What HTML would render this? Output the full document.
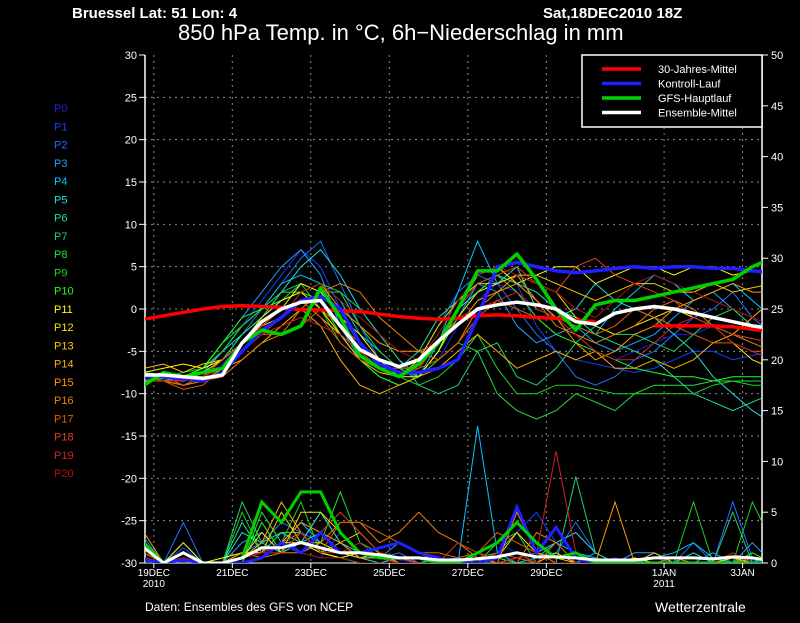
<!DOCTYPE html>
<html><head><meta charset="utf-8">
<style>
html,body{margin:0;padding:0;background:#000;}
body{width:800px;height:618px;overflow:hidden;font-family:"Liberation Sans","DejaVu Sans",sans-serif;}
svg text{font-family:"Liberation Sans","DejaVu Sans",sans-serif;}
svg text:not([fill]){fill:#fff;}
</style></head>
<body>
<svg id="chart" width="800" height="618" viewBox="0 0 800 618" xmlns="http://www.w3.org/2000/svg">
<rect x="0" y="0" width="800" height="618" fill="#000"/>
<text x="72" y="18" font-size="15" font-weight="bold">Bruessel  Lat: 51 Lon: 4</text>
<text x="543" y="18" font-size="15" font-weight="bold">Sat,18DEC2010 18Z</text>
<text x="178" y="40" font-size="22">850 hPa Temp. in °C, 6h−Niederschlag in mm</text>
<text x="145" y="611" font-size="12">Daten: Ensembles des GFS von NCEP</text>
<text x="655" y="612" font-size="14">Wetterzentrale</text>
<g id="grid"></g>
<g id="axes"></g>
<g id="legendP"></g>
<clipPath id="clip"><rect x="145" y="55" width="617" height="508"/></clipPath>
<g id="precip" clip-path="url(#clip)"></g>
<g id="temps" clip-path="url(#clip)"></g>
<g id="legend"></g>
</svg>
<script>
const xLabels=["19DEC","21DEC","23DEC","25DEC","27DEC","29DEC","1JAN","3JAN"];
const xLabelDays=[0.25,2.25,4.25,6.25,8.25,10.25,13.25,15.25];
const xLabelYear=["2010","","","","","","2011",""];
const leftTicks=[30,25,20,15,10,5,0,-5,-10,-15,-20,-25,-30];
const rightTicks=[50,45,40,35,30,25,20,15,10,5,0];
const memberColors=["#2020e0","#1040ff","#2070ff","#20a0ff","#00c8ff","#20e0e0","#20e0a0","#20d070","#20e040","#20d020","#20ff20","#ffff00","#ffe000","#ffc800","#ffb000","#ff9800","#f08000","#e06000","#e04020","#d02020","#b01010"];
const memberTemps=[
[-8,-8.3,-8.5,-8,-6.5,-4,-1,1,3,2,-1,-4,-6,-7.5,-8,-6,-2,1,3,2,0,-1,-3,-5,-6,-5,-4,-3,-3,-2,-3,-4,-5],
[-8.2,-8,-8.6,-7.5,-5,-2,1,4,7,5,0,-4,-7,-8,-7,-4,0,2,4,3,-2,-5,-6,-6.5,-7,-7.5,-7,-6,-5,-5,-6,-5.5,-5],
[-7.5,-8,-9,-8,-6,-3,0,3,6,8,3,-2,-6,-7,-6,-2,2,4,3,0,-3,-5,-8,-9,-8,-6,-5,-3,-1,0,2,-1,-3],
[-8,-8.5,-8,-7,-4,-1,2,5,7,4,-2,-6,-8,-9,-8,-5,-1,3,2,-2,-4,-3,-2,-4,-5,-4,-3,-1,1,2,0,-2,-3],
[-8,-7.5,-8,-7,-5,-2,0,3,4,3,1,-3,-5,-7,-8,-4,2,8,3,4,1,-1,-2,-3,0,2,4,3,1,2,3,1,-1],
[-8.5,-8,-8.5,-7.5,-5,-3,-1,2,5,7,4,0,-3,-6,-8,-5,0,2,3,5,0,-1,0,3,1,0,-1,-3,-5,-8,-10,-12,-13.5],
[-8,-8,-9,-8,-6,-3,-1,1,2,0,-3,-6,-7,-7,-5,-1,1,3,4,3,2,0,-1,-3,-4,-5,-6,-8,-10,-11,-12,-11,-10],
[-7.5,-7.8,-8,-7,-6,-3,-1,2,3,2,2,0,-3,-6,-9,-10,-9,-5,-4,-8,-9,-7,-4,-2,-3,-3,-4,-5,-3,-1,0,-2,-3],
[-8,-8.5,-8,-7,-4,-2,0,2,2,3,2,-2,-5,-7,-8,-6,-4,-5,-10,-12,-13,-12,-10,-11,-12,-10,-9,-9,-9,-8.5,-8.5,-8.5,-8.5],
[-8,-8,-7.5,-7,-5,-2,0,1,3,0,-4,-6,-7,-8,-9,-8,-6,-3,-7,-10,-10,-9,-9,-9.5,-10,-10,-10,-10,-10,-9,-8.5,-9,-9],
[-8.5,-8.2,-8,-7,-4,-1,0,1,2,1,-3,-6,-8,-9,-8,-5,-1,2,4,2,-1,-3,-4,-5,-6,-7,-7.5,-8,-8,-8.5,-8,-8,-8],
[-7.5,-7,-6.5,-7,-6,-4,-2,0,3,2,-1,-3,-6,-8,-8,-5,0,4,5,3,4,5,5,3,4,5,5,4,5,5,4,4.5,4],
[-8,-8,-8.5,-7.5,-6,-4,-1,1,2,0,-3,-5,-7,-8,-7,-4,-1,2,3,4,3,2,-1,-2,-3,-2,-1,0,-1,-2,-4,-6,-7],
[-7,-6.5,-7.5,-6.5,-6,-4,-2,-1,1,-1,-3,-6,-7.5,-8,-6,-2,1,3,3,4,4,3,2,1,2,3,3,2,2,3,2,2.5,3],
[-8,-7.5,-8,-8,-7,-6,-4,-2,0,-2,-6,-9,-10,-9,-8,-7,-5,-3,-5,-7,-6,-5,-6,-5,-7,-7,-6,-7,-6,-4,-3,-1,1],
[-8.5,-8.5,-9,-8.5,-7,-5,-3,-1,2,3,0,-2,-4,-5,-5,-4,-2,1,2,3,1,-1,-4,-6,-5,-3,-2,0,1,2,3,2,2],
[-8,-8.5,-9,-8.5,-8,-6,-4,-3,0,2,3,2,-1,-3,-5,-6,-4,0,2,4,1,-2,-3,-4,-3,-2,0,1,0,-2,-3,-4,-5],
[-8.5,-8.5,-9.5,-9,-7,-5,-3,-3,-2,0,-2,-4,-6,-7,-7,-6,-4,-1,1,0,-1,-1,-2,-3,-2,0,-1,-2,-3,-4,-4,-5,-5],
[-8,-8,-9,-8,-6,-4,-2,0,1,-1,-4,-6,-7,-7,-6,-4,0,3,4,5,3,2,5,6,4,3,2,1,-1,-2,-3,-3.5,-4],
[-8,-8.5,-8.5,-8,-7,-5,-3,-2,-1,-2,-3,-5,-7,-8,-7,-4,-1,0,1,2,0,-1,-3,-5,-6,-6,-4,-2,-1,-2,-4,-5,-6],
[-8,-8,-8.5,-8,-7,-5,-3,-1,2,3,1,-1,-3,-5,-6,-3,1,4,5,4,3,2,0,-1,1,3,4,3,2,1,0,-1,-2]
];
const memberPrecip=[
[0.5,0,0.3,0,0,1,2,3,2,1,2,1,0.5,0.3,0,0,0.5,1,2,1,0,0,0,0.5,0,0,0.5,0,0,0,0.5,0,0],
[1,0,1.5,0,0,0.5,1,3,1,0.5,3,1,0.5,0.5,0,0,0,0.5,1,3,5,2,0,0,0.5,0,1,0,0,0,0,0.3,0],
[2.5,0,4,0,0,1,2,4,3,2,1,1,0.5,1,0,0.3,0.5,0,0.5,1,0,1,4,1,0,0,0,0,2,0,6,0.5,0],
[1,0,2,0,0,2,3,1,2,5,2,0.5,0.5,2,1,0,0,0,0.5,0,0,1,0,1,0,1,1,0,0,1,0,2,0],
[0.5,0,1,0,0,1,1,2,4,2,1,0.5,0.5,0.5,0,0,0,13.5,1,0,0.5,2,1,0.5,0,0,0.5,1,2,0.5,0,0.5,0],
[0.5,0,0.5,0,0,3,2,1,2,3,1,0.5,0,0.5,0,0,0,1,0,0.5,1,2,3,1,0,0,0,0,1,0,0.5,0,1],
[0.5,0,1,0,0,4,1,3,2,5,2,1,0.5,0,0,0,0,0,0.5,1,0.5,1,0,0,0,0,1,0,0,0,0,0,0],
[0.5,0,2,0,0,6,2,3,3,1,0.5,0,0,0,0,0.5,0,0.5,1,3,0,0,8.5,1,0,0,0,0,0,0,5,0,0],
[0,0,1,0,0,0,5,2,1,2,7,2,1,0.5,0,0,0,0,2,3,1,0,0,0,0,0,0,0,0,0,0,0,0],
[0.5,0,0.5,0,0,5,1,2,6,1,0.5,0,0,0,0,0,2,1,0.5,0,0,0,0,0,0,0,0,0,6,0,0,6,2],
[1,0,1,0,0,0,4,1,3,1,0.5,0,0,0,0,0,0,0,0,0,0,0,0,0,0,0,0,0,0,0,0,1,0],
[0.5,0,1,0,0.5,1,1,2,2,1,0.5,1,0.5,0,0,0,0,0.5,0,0.5,0,0,0,0,0,0.5,0,0,0,0,0,0,0],
[0.5,0,2,0,0,0.5,3,1,5,5,3,1,0.5,0,0,0,0,0.5,0.5,1,0,0,0,0,0,0,0,0,0,0,0.5,0,0],
[0.5,0,1,0,0,1,1,5,2,2,1,0.5,1,0,0,0,0,0.5,0.5,3,1,0.5,0,0,0,0,0,0,0,0,0,0,0],
[2,0,1,0,0,0.5,2,6,3,1,2,3,1,0.5,0,0,0,1,0.5,1,0,1,0,0,0,0,1,0,0,0,0,0.5,0],
[3,0,0.5,0,0,0.5,1,2,4,3,2,0.5,0.5,0,0,0,0,0.5,0,5,1,0,0,0,6,0,0,0,0,0,0,0,0],
[1,0,0.5,0,0,1,0.5,1,1,2,4,4,2,3,5,3,2,0.5,0,0,3,2,0,0,0,0,0,0.5,0,0,0,0.5,0],
[1,0,0.5,0,0,0.5,1,2,3,1,4,4,3,2,1,1,0.5,1,3,2,1,0,0,0,0,0,0,0,0,0,0,0,0],
[0.5,0,0.5,0,0,0.5,1,2,1,3,5,3,1,0.5,0,0,0,0,1,0.5,0,2,0,0,0,0,0,0,0,0,0,0,0],
[0.5,0,0.5,0,0,0.5,1,1,3,1,1,2,0.5,0,0,0,2,1,0,0.5,1,11,1,0,0,0,0,0,0,0,1,0,0],
[0.5,0,0.5,0,0,0.5,1,2,1,0.5,0.5,0,0,0,0,0,0,1,0.5,1,0,0,0,0,0,0,0,0,0,0,0,0,0]
];
const climTemp=[-1.2,-0.8,-0.4,0,0.3,0.4,0.3,0.2,-0.1,-0.1,-0.2,-0.3,-0.6,-0.9,-1.1,-1.2,-1.1,-0.8,-0.7,-0.8,-1,-1.1,-1.3,-1.5,null,null,-2,-2,-2,-2,-2.1,-2.4,-2.7];
const controlTemp=[-8,-8,-8.2,-8.5,-7.5,-5,-2.5,-1,1,1.5,0,-4,-6.5,-7.5,-7.5,-7,-6,-1,5,5.5,5,4.5,4.3,4.5,4.8,5,4.8,5,5,4.8,4.8,4.5,4.3];
const gfsTemp=[-9,-7.5,-8,-7.5,-7,-4,-2.5,-3,-2,2.5,-1,-5.5,-7,-8,-6.5,-4,0,4.5,4.5,6.5,3.5,0,-2.5,0.5,1,1,1.5,2,2.5,3,3.5,5,6];
const meanTemp=[-7.8,-7.8,-8,-8.2,-7.8,-4,-1.5,0,0.8,1,-2,-4.8,-6,-6.8,-6,-3.8,-1.8,0,0.5,0.8,0.5,0,-1.5,-1.8,-0.5,0,0.3,0,-0.5,-1,-1.5,-2,-2.3];
const controlPrecip=[0.3,0,0.3,0,0,0,0.5,2,1,3,1,1,1.5,2,1,0.5,0,0,0.5,5.5,1,3.5,0.5,0,0,0,0,0,0,0,0,0,0];
const gfsPrecip=[2,0,1,0,0,0.5,6,4,7,7,3,1,0.5,0.5,0.5,0,0,1,2,4,2,0.5,1,0,0,0,0,0,0,0,0,0,0];
const meanPrecip=[1.5,0,1,0,0,0.5,1.5,1.5,2,1.5,1,1,0.8,0.5,0.5,0.3,0.3,0.4,0.6,1,0.6,0.6,0.5,0.3,0.3,0.3,0.5,0.5,0.5,0.4,0.6,0.5,0.2];
const legendLabels=["30-Jahres-Mittel","Kontroll-Lauf","GFS-Hauptlauf","Ensemble-Mittel"];
const legendColors=["#ff0000","#2020ff","#00d000","#ffffff"];

const NS="http://www.w3.org/2000/svg";
const X0=144,DAYPX=39.25,STEP=0.5;
function xDay(d){return X0+d*DAYPX;}
function xIdx(i){return xDay(i*STEP);}
function yT(t){return 309-t*(508/60);}
function yP(p){return 563-p*(508/50);}
function mk(tag,attrs,parent){const e=document.createElementNS(NS,tag);for(const k in attrs)e.setAttribute(k,attrs[k]);parent.appendChild(e);return e;}
function pathFrom(arr,yf){let d="",pen=false;arr.forEach((v,i)=>{if(v===null){pen=false;return;}d+=(pen?"L":"M")+xIdx(i).toFixed(1)+","+yf(v).toFixed(1);pen=true;});return d;}

const grid=document.getElementById('grid');
for(let t=-25;t<=25;t+=5){
  const l=mk('line',{x1:145,x2:762,y1:yT(t),y2:yT(t),stroke:'#888','stroke-dasharray':'2,4','stroke-width':1},grid);
  
  
}
xLabelDays.forEach(d=>{
  const l=mk('line',{x1:xDay(d),x2:xDay(d),y1:55,y2:563,stroke:'#888','stroke-dasharray':'2,4','stroke-width':1},grid);
  
  
});

const axes=document.getElementById('axes');
mk('line',{x1:145,x2:145,y1:55,y2:563,stroke:'#fff','stroke-width':1.5},axes);
mk('line',{x1:762,x2:762,y1:55,y2:563,stroke:'#fff','stroke-width':1.5},axes);
leftTicks.forEach(t=>{
  mk('line',{x1:139,x2:145,y1:yT(t),y2:yT(t),stroke:'#fff'},axes);
  const tx=mk('text',{x:137,y:yT(t)+4,'font-size':11,'text-anchor':'end'},axes);
  tx.textContent=t;
  
  
});
rightTicks.forEach(p=>{
  mk('line',{x1:762,x2:768,y1:yP(p),y2:yP(p),stroke:'#fff'},axes);
  const tx=mk('text',{x:771,y:yP(p)+4,'font-size':11},axes);
  tx.textContent=p;
  
  
});
xLabels.forEach((lab,i)=>{
  const x=xDay(xLabelDays[i]);
  mk('line',{x1:x,x2:x,y1:563,y2:568,stroke:'#fff'},axes);
  const tx=mk('text',{x:x,y:576,'font-size':10,'text-anchor':'middle'},axes);
  tx.textContent=lab;
  
  
  if(xLabelYear[i]){
    const ty=mk('text',{x:x,y:587,'font-size':10,'text-anchor':'middle'},axes);
    ty.textContent=xLabelYear[i];
    
    
  }
});
mk('line',{x1:145,x2:762,y1:563,y2:563,stroke:'#fff','stroke-width':1},axes);

const lp=document.getElementById('legendP');
memberColors.forEach((c,i)=>{
  const tx=mk('text',{x:54,y:112+i*18.25,'font-size':11,fill:c,style:'fill:'+c},lp);
  tx.textContent="P"+i;
  
  
});

const pg=document.getElementById('precip');
memberPrecip.forEach((arr,i)=>{
  const p=mk('path',{d:pathFrom(arr,yP),fill:'none',stroke:memberColors[i],'stroke-width':1},pg);
  
  
});
[[controlPrecip,'#2020ff','control-precip-line'],[gfsPrecip,'#00d000','gfs-precip-line'],[meanPrecip,'#ffffff','mean-precip-line']].forEach(s=>{
  const p=mk('path',{d:pathFrom(s[0],yP),fill:'none',stroke:s[1],'stroke-width':3},pg);
  
  
});

const tg=document.getElementById('temps');
memberTemps.forEach((arr,i)=>{
  const p=mk('path',{d:pathFrom(arr,yT),fill:'none',stroke:memberColors[i],'stroke-width':1},tg);
  
  
});
[[climTemp,'#ff0000','clim-temp-line'],[controlTemp,'#2020ff','control-temp-line'],[gfsTemp,'#00d000','gfs-temp-line'],[meanTemp,'#ffffff','mean-temp-line']].forEach(s=>{
  const p=mk('path',{d:pathFrom(s[0],yT),fill:'none',stroke:s[1],'stroke-width':3.5,'stroke-linejoin':'round'},tg);
  
  
});

const lg=document.getElementById('legend');
const box=mk('rect',{x:582,y:55,width:180,height:72,fill:'#000',stroke:'#fff','stroke-width':1.5},lg);


legendLabels.forEach((lab,i)=>{
  const y=69+i*14.5;
  const ln=mk('line',{x1:602,x2:641,y1:y,y2:y,stroke:legendColors[i],'stroke-width':3.5},lg);
  
  
  const tx=mk('text',{x:658,y:y+4,'font-size':11},lg);
  tx.textContent=lab;
  
  
});
</script>
</body></html>
